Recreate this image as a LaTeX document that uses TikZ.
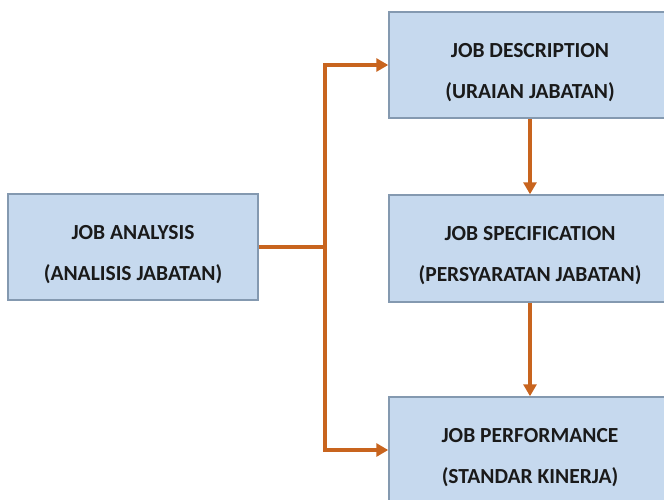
\documentclass[tikz,border=0pt]{standalone}
\usepackage{fontspec}
\setmainfont{Carlito}
\usetikzlibrary{arrows.meta}
\definecolor{boxfill}{HTML}{C6D9EE}
\definecolor{boxline}{HTML}{8499B0}
\definecolor{arr}{HTML}{C8641E}
\definecolor{txt}{HTML}{1A1A1A}
\newcommand{\topstrut}{\rule{0pt}{29pt}}
\tikzset{
  box/.style={draw=boxline, line width=1.5pt, fill=boxfill, minimum height=106pt,
    align=center, font=\fontsize{21.5}{41}\selectfont\bfseries, text=txt},
  conn/.style={draw=arr, line width=4pt, -{Triangle[length=12pt,width=13pt]}},
  bus/.style={draw=arr, line width=4pt}
}
\begin{document}
\begin{tikzpicture}[x=1pt,y=-1pt]
\useasboundingbox (0,0) rectangle (664,499);
\clip (0,0) rectangle (664,499);
\node[box, minimum width=250pt] (ja) at (133,247) {\topstrut JOB ANALYSIS\\(ANALISIS JABATAN)};
\node[box, minimum width=282pt] (jd) at (530,65) {\topstrut JOB DESCRIPTION\\(URAIAN JABATAN)};
\node[box, minimum width=282pt, minimum height=107pt] (js) at (530,248.5) {\topstrut JOB SPECIFICATION\\(PERSYARATAN JABATAN)};
\node[box, minimum width=282pt] (jp) at (530,450) {\topstrut JOB PERFORMANCE\\(STANDAR KINERJA)};
\coordinate (bt) at (325,65);
\coordinate (bm) at (325,247);
\coordinate (bb) at (325,450);
\draw[bus] (ja.east) -- (bm);
\draw[bus, line cap=rect] (bt) -- (bb);
\draw[conn] (bt) -- (jd.west);
\draw[conn] (bb) -- (jp.west);
\draw[conn] (jd.south) -- (js.north);
\draw[conn] (js.south) -- (jp.north);
\end{tikzpicture}
\end{document}
